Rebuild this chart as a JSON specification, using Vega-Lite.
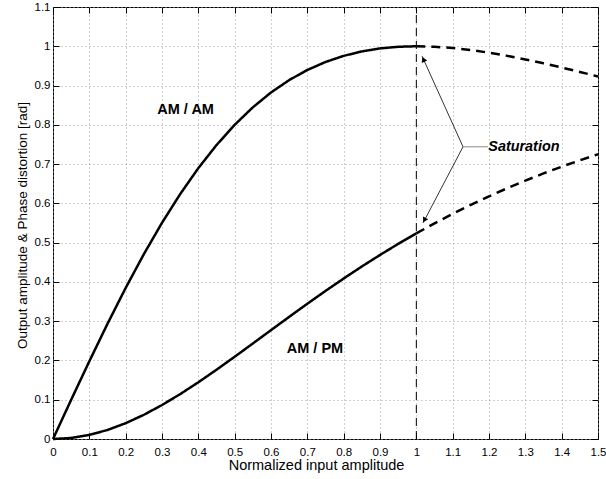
{
  "$schema": "https://vega.github.io/schema/vega-lite/v6.json",
  "width": 545,
  "height": 432,
  "autosize": {"type": "none"},
  "padding": {"left": 53, "top": 7, "right": 8, "bottom": 40},
  "background": "white",
  "config": {
    "view": {"stroke": "black", "strokeWidth": 1},
    "font": "Liberation Sans",
    "axis": {"labelFont": "Liberation Sans", "titleFont": "Liberation Sans", "labelFontSize": 11.5, "titleFontSize": 14.5, "titleFontWeight": "normal", "labelColor": "black", "titleColor": "black", "domain": false, "tickColor": "black", "gridColor": "#a0a0a0", "gridDash": [1, 3], "gridWidth": 1, "gridOpacity": 1}
  },
  "datasets": {
    "curves": [
      {"x": 0, "y": 0, "curve": "AMAM", "seg": "solid"},
      {"x": 0.05, "y": 0.0998, "curve": "AMAM", "seg": "solid"},
      {"x": 0.1, "y": 0.198, "curve": "AMAM", "seg": "solid"},
      {"x": 0.15, "y": 0.2934, "curve": "AMAM", "seg": "solid"},
      {"x": 0.2, "y": 0.3846, "curve": "AMAM", "seg": "solid"},
      {"x": 0.25, "y": 0.4706, "curve": "AMAM", "seg": "solid"},
      {"x": 0.3, "y": 0.5505, "curve": "AMAM", "seg": "solid"},
      {"x": 0.35, "y": 0.6236, "curve": "AMAM", "seg": "solid"},
      {"x": 0.4, "y": 0.6897, "curve": "AMAM", "seg": "solid"},
      {"x": 0.45, "y": 0.7484, "curve": "AMAM", "seg": "solid"},
      {"x": 0.5, "y": 0.8, "curve": "AMAM", "seg": "solid"},
      {"x": 0.55, "y": 0.8445, "curve": "AMAM", "seg": "solid"},
      {"x": 0.6, "y": 0.8824, "curve": "AMAM", "seg": "solid"},
      {"x": 0.65, "y": 0.9139, "curve": "AMAM", "seg": "solid"},
      {"x": 0.7, "y": 0.9396, "curve": "AMAM", "seg": "solid"},
      {"x": 0.75, "y": 0.96, "curve": "AMAM", "seg": "solid"},
      {"x": 0.8, "y": 0.9756, "curve": "AMAM", "seg": "solid"},
      {"x": 0.85, "y": 0.9869, "curve": "AMAM", "seg": "solid"},
      {"x": 0.9, "y": 0.9945, "curve": "AMAM", "seg": "solid"},
      {"x": 0.95, "y": 0.9987, "curve": "AMAM", "seg": "solid"},
      {"x": 1.0, "y": 1.0, "curve": "AMAM", "seg": "solid"},
      {"x": 1.0, "y": 1.0, "curve": "AMAM", "seg": "dashed"},
      {"x": 1.05, "y": 0.9988, "curve": "AMAM", "seg": "dashed"},
      {"x": 1.1, "y": 0.9955, "curve": "AMAM", "seg": "dashed"},
      {"x": 1.15, "y": 0.9903, "curve": "AMAM", "seg": "dashed"},
      {"x": 1.2, "y": 0.9836, "curve": "AMAM", "seg": "dashed"},
      {"x": 1.25, "y": 0.9756, "curve": "AMAM", "seg": "dashed"},
      {"x": 1.3, "y": 0.9665, "curve": "AMAM", "seg": "dashed"},
      {"x": 1.35, "y": 0.9566, "curve": "AMAM", "seg": "dashed"},
      {"x": 1.4, "y": 0.9459, "curve": "AMAM", "seg": "dashed"},
      {"x": 1.45, "y": 0.9347, "curve": "AMAM", "seg": "dashed"},
      {"x": 1.5, "y": 0.9231, "curve": "AMAM", "seg": "dashed"},
      {"x": 0, "y": 0, "curve": "AMPM", "seg": "solid"},
      {"x": 0.05, "y": 0.0026, "curve": "AMPM", "seg": "solid"},
      {"x": 0.1, "y": 0.0104, "curve": "AMPM", "seg": "solid"},
      {"x": 0.15, "y": 0.023, "curve": "AMPM", "seg": "solid"},
      {"x": 0.2, "y": 0.0403, "curve": "AMPM", "seg": "solid"},
      {"x": 0.25, "y": 0.0616, "curve": "AMPM", "seg": "solid"},
      {"x": 0.3, "y": 0.0865, "curve": "AMPM", "seg": "solid"},
      {"x": 0.35, "y": 0.1143, "curve": "AMPM", "seg": "solid"},
      {"x": 0.4, "y": 0.1444, "curve": "AMPM", "seg": "solid"},
      {"x": 0.45, "y": 0.1764, "curve": "AMPM", "seg": "solid"},
      {"x": 0.5, "y": 0.2094, "curve": "AMPM", "seg": "solid"},
      {"x": 0.55, "y": 0.2432, "curve": "AMPM", "seg": "solid"},
      {"x": 0.6, "y": 0.2772, "curve": "AMPM", "seg": "solid"},
      {"x": 0.65, "y": 0.311, "curve": "AMPM", "seg": "solid"},
      {"x": 0.7, "y": 0.3444, "curve": "AMPM", "seg": "solid"},
      {"x": 0.75, "y": 0.377, "curve": "AMPM", "seg": "solid"},
      {"x": 0.8, "y": 0.4087, "curve": "AMPM", "seg": "solid"},
      {"x": 0.85, "y": 0.4393, "curve": "AMPM", "seg": "solid"},
      {"x": 0.9, "y": 0.4686, "curve": "AMPM", "seg": "solid"},
      {"x": 0.95, "y": 0.4968, "curve": "AMPM", "seg": "solid"},
      {"x": 1.0, "y": 0.5236, "curve": "AMPM", "seg": "solid"},
      {"x": 1.0, "y": 0.5236, "curve": "AMPM", "seg": "dashed"},
      {"x": 1.05, "y": 0.5491, "curve": "AMPM", "seg": "dashed"},
      {"x": 1.1, "y": 0.5734, "curve": "AMPM", "seg": "dashed"},
      {"x": 1.15, "y": 0.5963, "curve": "AMPM", "seg": "dashed"},
      {"x": 1.2, "y": 0.618, "curve": "AMPM", "seg": "dashed"},
      {"x": 1.25, "y": 0.6385, "curve": "AMPM", "seg": "dashed"},
      {"x": 1.3, "y": 0.6579, "curve": "AMPM", "seg": "dashed"},
      {"x": 1.35, "y": 0.6762, "curve": "AMPM", "seg": "dashed"},
      {"x": 1.4, "y": 0.6934, "curve": "AMPM", "seg": "dashed"},
      {"x": 1.45, "y": 0.7097, "curve": "AMPM", "seg": "dashed"},
      {"x": 1.5, "y": 0.725, "curve": "AMPM", "seg": "dashed"}
    ],
    "arrows": [
      {"x": 1.1285, "y": 0.744, "arrow": "up"},
      {"x": 1.0157, "y": 0.975, "arrow": "up"},
      {"x": 1.1285, "y": 0.744, "arrow": "down"},
      {"x": 1.0184, "y": 0.55, "arrow": "down"}
    ],
    "heads": [
      {"x": 1.0195, "y": 0.9665, "angle": 335.7},
      {"x": 1.0222, "y": 0.5575, "angle": 207.8}
    ],
    "labels": [
      {"x": 0.365, "y": 0.838, "text": "AM / AM"},
      {"x": 0.721, "y": 0.229, "text": "AM / PM"}
    ],
    "sat": [
      {"x": 1.296, "y": 0.744, "text": "Saturation"}
    ]
  },
  "layer": [
    {
      "data": {"name": "curves"},
      "mark": {"type": "line", "color": "black", "strokeWidth": 2.5},
      "encoding": {
        "x": {"field": "x", "type": "quantitative", "scale": {"domain": [0, 1.5], "nice": false},
          "axis": {"orient": "bottom", "title": "Normalized input amplitude", "format": ".1~f", "values": [0,0.1,0.2,0.3,0.4,0.5,0.6,0.7,0.8,0.9,1,1.1,1.2,1.3,1.4,1.5], "tickSize": -6, "labelPadding": 13, "titlePadding": 1, "titleX": 263, "grid": true, "labelFlush": false, "labelOverlap": false}},
        "y": {"field": "y", "type": "quantitative", "scale": {"domain": [0, 1.1], "nice": false},
          "axis": {"orient": "left", "title": "Output amplitude  & Phase distortion [rad]", "titleFontSize": 13.5, "titleY": 218, "format": ".1~f", "values": [0,0.1,0.2,0.3,0.4,0.5,0.6,0.7,0.8,0.9,1,1.1], "tickSize": -6, "labelPadding": 9, "titlePadding": 5, "grid": true, "labelFlush": false, "labelOverlap": false}},
        "detail": {"field": "curve"},
        "strokeDash": {"field": "seg", "type": "nominal", "scale": {"domain": ["solid", "dashed"], "range": [[1, 0], [9, 6]]}, "legend": null}
      }
    },
    {
      "data": {"values": [{"x": 0, "y": 0}, {"x": 1.5, "y": 1.1}]},
      "mark": {"type": "point", "opacity": 0},
      "encoding": {
        "x": {"field": "x", "type": "quantitative", "axis": {"orient": "top", "title": null, "labels": false, "values": [0,0.1,0.2,0.3,0.4,0.5,0.6,0.7,0.8,0.9,1,1.1,1.2,1.3,1.4,1.5], "tickSize": -6, "grid": false}},
        "y": {"field": "y", "type": "quantitative", "axis": {"orient": "right", "title": null, "labels": false, "values": [0,0.1,0.2,0.3,0.4,0.5,0.6,0.7,0.8,0.9,1,1.1], "tickSize": -6, "grid": false}}
      }
    },
    {
      "data": {"values": [{"x": 1, "y": 0}, {"x": 1, "y": 1.1}]},
      "mark": {"type": "line", "color": "black", "strokeWidth": 1, "strokeDash": [8, 5]},
      "encoding": {
        "x": {"field": "x", "type": "quantitative", "axis": null},
        "y": {"field": "y", "type": "quantitative", "axis": null}
      }
    },
    {
      "data": {"name": "arrows"},
      "mark": {"type": "line", "color": "black", "strokeWidth": 0.8},
      "encoding": {
        "x": {"field": "x", "type": "quantitative", "axis": null},
        "y": {"field": "y", "type": "quantitative", "axis": null},
        "detail": {"field": "arrow"}
      }
    },
    {
      "data": {"values": [{"x": 1.1285, "y": 0.744}, {"x": 1.197, "y": 0.744}]},
      "mark": {"type": "line", "color": "#888888", "strokeWidth": 1},
      "encoding": {
        "x": {"field": "x", "type": "quantitative", "axis": null},
        "y": {"field": "y", "type": "quantitative", "axis": null}
      }
    },
    {
      "data": {"name": "heads"},
      "mark": {"type": "point", "shape": "triangle-up", "filled": true, "color": "black", "size": 35, "opacity": 1},
      "encoding": {
        "x": {"field": "x", "type": "quantitative", "axis": null},
        "y": {"field": "y", "type": "quantitative", "axis": null},
        "angle": {"field": "angle", "type": "quantitative", "scale": null}
      }
    },
    {
      "data": {"name": "labels"},
      "mark": {"type": "text", "fontWeight": "bold", "fontSize": 14.5, "color": "black", "align": "center", "baseline": "middle"},
      "encoding": {
        "x": {"field": "x", "type": "quantitative", "axis": null},
        "y": {"field": "y", "type": "quantitative", "axis": null},
        "text": {"field": "text"}
      }
    },
    {
      "data": {"name": "sat"},
      "mark": {"type": "text", "fontWeight": "bold", "fontStyle": "italic", "fontSize": 14.4, "color": "black", "align": "center", "baseline": "middle"},
      "encoding": {
        "x": {"field": "x", "type": "quantitative", "axis": null},
        "y": {"field": "y", "type": "quantitative", "axis": null},
        "text": {"field": "text"}
      }
    }
  ],
  "resolve": {"axis": {"x": "independent", "y": "independent"}}
}
